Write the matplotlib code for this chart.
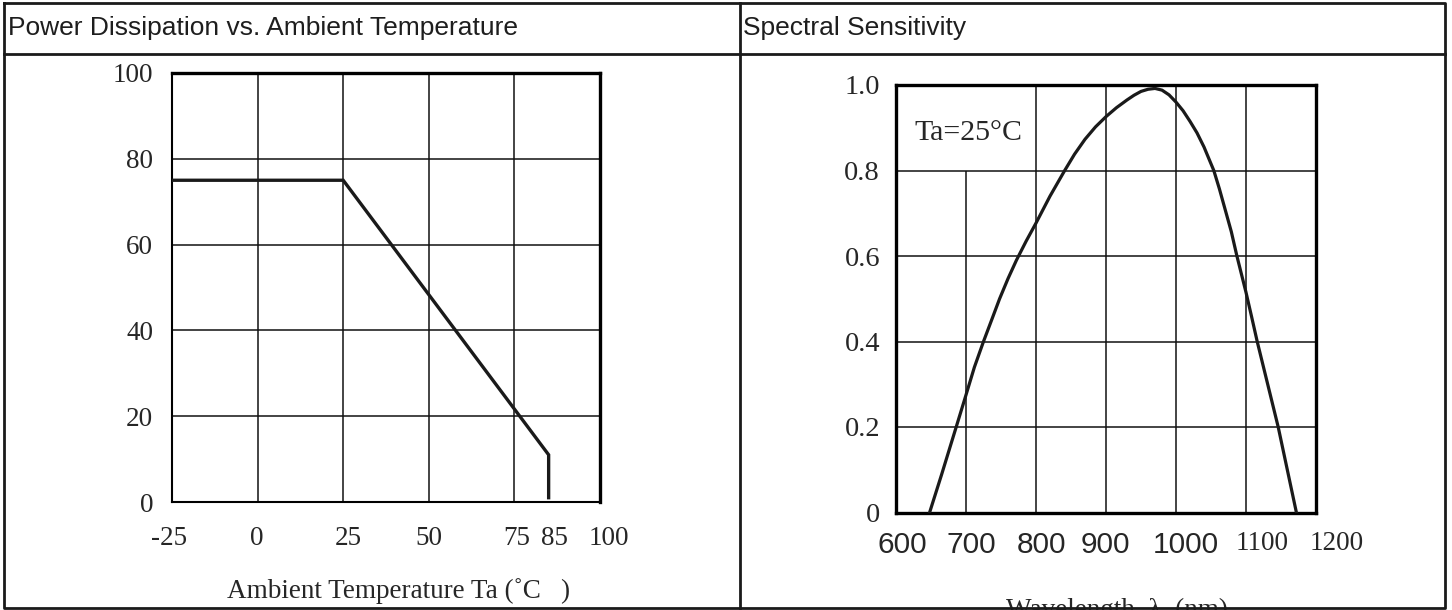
import matplotlib
matplotlib.use("Agg")
import matplotlib.pyplot as plt
from matplotlib.lines import Line2D
from matplotlib.transforms import ScaledTranslation

# Power dissipation vs ambient temperature (derating curve)
temp_c = [-25, 25, 85, 85]
power_mw = [75, 75, 11, 1]
temp_ticks = [-25, 0, 25, 50, 75, 85, 100]
temp_grid = [-25, 0, 25, 50, 75, 100]
power_ticks = [0, 20, 40, 60, 80, 100]

# Spectral sensitivity (relative)
wavelength_nm = [648, 665, 686, 700, 712, 725, 737, 748, 760, 772, 786, 800, 820, 841,
                 855, 870, 885, 900, 915, 930, 940, 950, 960, 970, 980, 990, 1000,
                 1010, 1020, 1030, 1040, 1054, 1062, 1070, 1079, 1087, 1100, 1108,
                 1116, 1131, 1146, 1159, 1172]
sensitivity = [0, 0.088, 0.2, 0.275, 0.34, 0.4, 0.452, 0.5, 0.547, 0.59, 0.635, 0.677,
               0.74, 0.8, 0.838, 0.873, 0.902, 0.926, 0.947, 0.965, 0.976, 0.985, 0.99,
               0.992, 0.988, 0.977, 0.96, 0.94, 0.915, 0.888, 0.855, 0.8, 0.757, 0.71,
               0.657, 0.6, 0.515, 0.458, 0.4, 0.3, 0.2, 0.1, 0]
wave_ticks = [600, 700, 800, 900, 1000, 1100, 1200]
sens_ticks = [0, 0.2, 0.4, 0.6, 0.8, 1.0]
sens_tick_labels = ["0", "0.2", "0.4", "0.6", "0.8", "1.0"]

SERIF = "Liberation Serif"
SANS = "Liberation Sans"
W, H = 1452, 610
INK = "#111111"
LABEL = "#262626"


def px(x):
    return x / W


def py(y):
    return 1 - y / H


def shift_labels(fig, labels, offsets):
    # nudge tick labels sideways by a few pixels, like the scanned sheet
    for lab, dx in zip(labels, offsets):
        lab.set_transform(lab.get_transform() + ScaledTranslation(dx / 100, 0, fig.dpi_scale_trans))


fig = plt.figure(figsize=(W / 100, H / 100), dpi=100)
fig.patch.set_facecolor("white")

# Table frame
tbl = dict(color="#1a1a1a", lw=2.0, transform=fig.transFigure, zorder=10)
fig.add_artist(Line2D([px(4), px(1445), px(1445), px(4), px(4)],
                      [py(3), py(3), py(608), py(608), py(3)], **tbl))
fig.add_artist(Line2D([px(740), px(740)], [py(3), py(608)], **tbl))
fig.add_artist(Line2D([px(4), px(1445)], [py(54), py(54)], **tbl))
fig.text(px(8), py(28), "Power Dissipation vs. Ambient Temperature", family=SANS,
         fontsize=19, color="#1e1e1e", va="center", ha="left")
fig.text(px(743), py(28), "Spectral Sensitivity", family=SANS,
         fontsize=19, color="#1e1e1e", va="center", ha="left")

# ---- Left: power dissipation ----
ax1 = fig.add_axes([px(172), py(502), px(600) - px(172), py(73) - py(502)])
ax1.plot(temp_c, power_mw, color="#1a1a1a", lw=2.4, solid_joinstyle="miter", zorder=3)
ax1.set_xlim(-25, 100)
ax1.set_ylim(0, 100)
ax1.vlines(temp_grid, 0, 100, color=INK, lw=1.1, zorder=1)
ax1.hlines(power_ticks, -25, 100, color=INK, lw=1.1, zorder=1)
ax1.set_xticks(temp_ticks)
ax1.set_xticklabels([str(t) for t in temp_ticks])
ax1.set_yticks(power_ticks)
ax1.set_yticklabels([str(t) for t in power_ticks])
ax1.tick_params(axis="both", length=0, labelsize=19.5, labelcolor=LABEL)
ax1.tick_params(axis="y", pad=13.5)
ax1.tick_params(axis="x", pad=17)
for lab in ax1.get_xticklabels() + ax1.get_yticklabels():
    lab.set_family(SERIF)
shift_labels(fig, ax1.get_xticklabels(), [-3, -1, 5, 0, 2, 6, 9])
for side in ("top", "right"):
    ax1.spines[side].set_linewidth(2.4)
for side in ("left", "bottom"):
    ax1.spines[side].set_linewidth(1.5)
ax1.set_xlabel("Ambient Temperature Ta (˚C   )", family=SERIF, fontsize=19.5, color=LABEL)
ax1.xaxis.set_label_coords(0.53, -0.2075)
ax1.xaxis.label.set_va("center")

# ---- Right: spectral sensitivity ----
ax2 = fig.add_axes([px(896), py(512.5), px(1316) - px(896), py(85) - py(512.5)])
ax2.plot(wavelength_nm, sensitivity, color="#1a1a1a", lw=2.3, solid_joinstyle="round", zorder=3)
ax2.set_xlim(600, 1200)
ax2.set_ylim(0, 1.0)
for w in wave_ticks:
    # the 700 nm line stops under the Ta note
    top = 0.8 if w == 700 else 1.0
    ax2.vlines(w, 0, top, color=INK, lw=1.1, zorder=1)
ax2.hlines(sens_ticks, 600, 1200, color=INK, lw=1.1, zorder=1)
ax2.set_xticks(wave_ticks)
ax2.set_xticklabels([str(w) for w in wave_ticks])
ax2.set_yticks(sens_ticks)
ax2.set_yticklabels(sens_tick_labels)
ax2.tick_params(axis="both", length=0, labelsize=19.5, labelcolor=LABEL)
ax2.tick_params(axis="y", pad=11.5, labelsize=20.5)
ax2.tick_params(axis="x", pad=13)
for lab in ax2.get_yticklabels():
    lab.set_family(SERIF)
for lab, w in zip(ax2.get_xticklabels(), wave_ticks):
    if w >= 1100:
        lab.set_family(SERIF)
    else:
        lab.set_family(SANS)
        lab.set_fontsize(21.5)
shift_labels(fig, ax2.get_xticklabels(), [6, 5, 6, -1, 10, 16, 21])
for side in ax2.spines.values():
    side.set_linewidth(2.4)
ax2.text(627, 0.888, "Ta=25°C", family=SERIF, fontsize=21.5, color=LABEL, va="center", ha="left")
ax2.set_xlabel("Wavelength  λ  (nm)", family=SERIF, fontsize=19.5, color=LABEL)
ax2.xaxis.set_label_coords(0.525, -0.2444)
ax2.xaxis.label.set_va("baseline")

fig.savefig("out.png", dpi=100, facecolor="white")
